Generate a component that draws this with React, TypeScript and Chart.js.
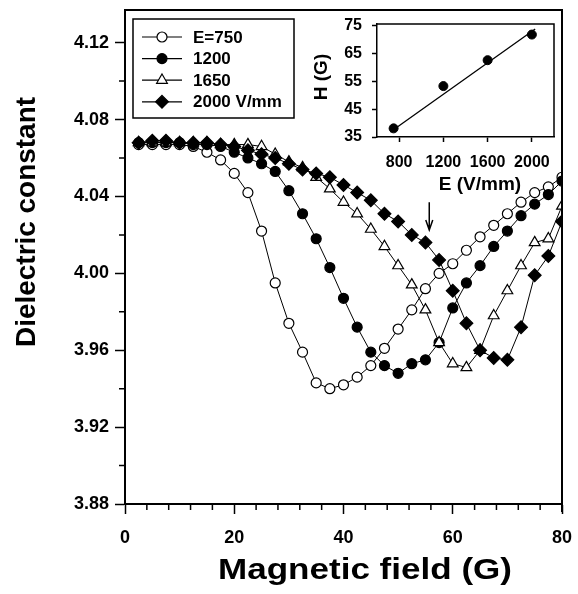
import React, { useEffect, useRef } from 'react';
import { Chart, registerables } from 'chart.js';
Chart.register(...registerables);

const FONT = '"Liberation Sans", Arial, Helvetica, sans-serif';

// Magnetic field (G) sampling grid
const fieldG = [2.5, 5, 7.5, 10, 12.5, 15, 17.5, 20, 22.5, 25, 27.5, 30, 32.5, 35, 37.5, 40,
  42.5, 45, 47.5, 50, 52.5, 55, 57.5, 60, 62.5, 65, 67.5, 70, 72.5, 75, 77.5, 80];

const e750 = [4.067, 4.067, 4.067, 4.067, 4.066, 4.063, 4.059, 4.052, 4.042, 4.022,
  3.995, 3.974, 3.959, 3.943, 3.940, 3.942, 3.946, 3.952, 3.961, 3.971,
  3.981, 3.992, 4.000, 4.005, 4.012, 4.019, 4.025, 4.031, 4.037, 4.042,
  4.045, 4.050];
const e1200 = [4.068, 4.068, 4.068, 4.068, 4.067, 4.067, 4.066, 4.063, 4.060, 4.057,
  4.053, 4.043, 4.031, 4.018, 4.003, 3.987, 3.972, 3.959, 3.952, 3.948,
  3.953, 3.955, 3.964, 3.982, 3.995, 4.004, 4.014, 4.022, 4.030, 4.036,
  4.041, 4.048];
const e1650 = [4.068, 4.068, 4.068, 4.068, 4.068, 4.068, 4.067, 4.067, 4.067, 4.066,
  4.062, 4.058, 4.055, 4.050, 4.044, 4.037, 4.031, 4.023, 4.014, 4.004,
  3.994, 3.981, 3.964, 3.953, 3.951, 3.960, 3.978, 3.991, 4.004, 4.016,
  4.018, 4.035];
const e2000 = [4.068, 4.069, 4.069, 4.068, 4.068, 4.068, 4.067, 4.066, 4.064, 4.062,
  4.060, 4.057, 4.054, 4.052, 4.050, 4.046, 4.042, 4.038, 4.031, 4.027,
  4.020, 4.016, 4.007, 3.991, 3.974, 3.960, 3.956, 3.955, 3.972, 3.999,
  4.009, 4.027];

const seriesLabels = ['E=750', '1200', '1650', '2000 V/mm'];
const xTicks = [0, 20, 40, 60, 80];
const xMinorTicks = [4, 8, 12, 16, 24, 28, 32, 36, 44, 48, 52, 56, 64, 68, 72, 76];
const yTicks = [3.88, 3.92, 3.96, 4.00, 4.04, 4.08, 4.12];
const yMinorTicks = [3.90, 3.94, 3.98, 4.02, 4.06, 4.10];

// arrow marker (field, [from, to] dielectric constant)
const arrowField = 55.7;
const arrowRange = [4.037, 4.0225];

// inset: H vs E
const insetE = [750, 1200, 1600, 2000];
const insetH = [38.1, 53.3, 62.6, 71.8];
const fitE = [720, 2030];
const fitH = [36.8, 73.8];
const insetXTicks = [800, 1200, 1600, 2000];
const insetYTicks = [35, 45, 55, 65, 75];

type Style = { shape: string; fill: string; r: number };
const styles: Style[] = [
  { shape: 'circle', fill: '#fff', r: 5 },
  { shape: 'circle', fill: '#000', r: 5 },
  { shape: 'triangle', fill: '#fff', r: 6.2 },
  { shape: 'rectRot', fill: '#000', r: 6.4 },
];

function drawMarker(ctx: CanvasRenderingContext2D, s: Style, x: number, y: number) {
  ctx.beginPath();
  const r = s.r;
  if (s.shape === 'circle') {
    ctx.arc(x, y, r, 0, Math.PI * 2);
  } else if (s.shape === 'triangle') {
    for (let k = 0; k < 3; k++) {
      const a = k * (2 * Math.PI / 3);
      const px = x + Math.sin(a) * r, py = y - Math.cos(a) * r;
      if (k === 0) ctx.moveTo(px, py); else ctx.lineTo(px, py);
    }
    ctx.closePath();
  } else {
    ctx.moveTo(x, y - r); ctx.lineTo(x + r, y); ctx.lineTo(x, y + r); ctx.lineTo(x - r, y);
    ctx.closePath();
  }
  ctx.fillStyle = s.fill; ctx.fill();
  ctx.lineWidth = 1.2; ctx.strokeStyle = '#000'; ctx.stroke();
}

function drawText(ctx: CanvasRenderingContext2D, text: string, x: number, y: number, font: string,
  rotate: boolean, targetW?: number) {
  ctx.save();
  ctx.font = font;
  ctx.fillStyle = '#000';
  const w = ctx.measureText(text).width;
  const sx = targetW ? targetW / w : 1;
  ctx.translate(x, y);
  if (rotate) ctx.rotate(-Math.PI / 2);
  ctx.scale(sx, 1);
  ctx.textAlign = 'center';
  ctx.textBaseline = 'alphabetic';
  ctx.fillText(text, 0, 0);
  ctx.restore();
}

const zeroPad = (s: any) => { s.paddingTop = 0; s.paddingBottom = 0; s.paddingLeft = 0; s.paddingRight = 0; };

const mainDecor = {
  id: 'mainDecor',
  afterDraw(chart: any) {
    const { ctx, chartArea: a, scales } = chart;
    const xs = scales.x, ys = scales.y;
    ctx.save();
    ctx.strokeStyle = '#000';
    // frame top/right
    ctx.lineWidth = 2;
    ctx.beginPath();
    ctx.moveTo(a.left, a.top); ctx.lineTo(a.right, a.top); ctx.lineTo(a.right, a.bottom + 8);
    ctx.stroke();
    // minor ticks
    ctx.lineWidth = 1.5;
    ctx.beginPath();
    xMinorTicks.forEach(v => {
      const px = xs.getPixelForValue(v);
      ctx.moveTo(px, a.bottom); ctx.lineTo(px, a.bottom + 6);
    });
    yMinorTicks.forEach(v => {
      const py = ys.getPixelForValue(v);
      ctx.moveTo(a.left, py); ctx.lineTo(a.left - 6, py);
    });
    ctx.stroke();
    // arrow
    const ax = xs.getPixelForValue(arrowField);
    const ay1 = ys.getPixelForValue(arrowRange[0]);
    const ay2 = ys.getPixelForValue(arrowRange[1]);
    ctx.lineWidth = 1.5;
    ctx.beginPath();
    ctx.moveTo(ax, ay1); ctx.lineTo(ax, ay2);
    ctx.moveTo(ax - 3.5, ay2 - 10); ctx.lineTo(ax, ay2); ctx.lineTo(ax + 3.5, ay2 - 10);
    ctx.stroke();
    // legend
    const lx = a.left + 8, ly = a.top + 9;
    ctx.lineWidth = 1.5;
    ctx.strokeRect(lx, ly, 161, 99);
    seriesLabels.forEach((lab, i) => {
      const yy = ly + 18 + i * 21.6;
      ctx.lineWidth = 1.2;
      ctx.beginPath();
      ctx.moveTo(lx + 9, yy); ctx.lineTo(lx + 49, yy);
      ctx.stroke();
      drawMarker(ctx, styles[i], lx + 29, yy);
      ctx.fillStyle = '#000';
      ctx.font = 'bold 17px ' + FONT;
      ctx.textAlign = 'left';
      ctx.textBaseline = 'middle';
      ctx.fillText(lab, lx + 60, yy + 1);
    });
    // axis titles
    drawText(ctx, 'Dielectric constant', 35, 222, 'bold 28px ' + FONT, true, 250);
    drawText(ctx, 'Magnetic field (G)', 365, 579, 'bold 30px ' + FONT, false, 294);
    ctx.restore();
  },
};

const insetDecor = {
  id: 'insetDecor',
  afterDraw(chart: any) {
    const { ctx, chartArea: a } = chart;
    ctx.save();
    ctx.strokeStyle = '#000';
    ctx.lineWidth = 1.5;
    ctx.beginPath();
    ctx.moveTo(a.left, a.top); ctx.lineTo(a.right, a.top); ctx.lineTo(a.right, a.bottom);
    ctx.stroke();
    drawText(ctx, 'H (G)', 27, 77, 'bold 19px ' + FONT, true);
    drawText(ctx, 'E (V/mm)', 180, 190, 'bold 19px ' + FONT, false);
    ctx.restore();
  },
};

export default function App() {
  const mainRef = useRef<HTMLCanvasElement>(null);
  const insetRef = useRef<HTMLCanvasElement>(null);

  useEffect(() => {
    const series = [e750, e1200, e1650, e2000];
    const tickFont = { family: FONT, size: 18, weight: 'bold' as const };
    const main = new Chart(mainRef.current as HTMLCanvasElement, {
      type: 'scatter',
      data: {
        datasets: series.map((vals, i) => ({
          label: seriesLabels[i],
          data: fieldG.map((x, k) => ({ x, y: vals[k] })),
          showLine: true,
          borderColor: '#000',
          borderWidth: 1,
          pointStyle: styles[i].shape as any,
          pointRadius: styles[i].r,
          pointBackgroundColor: styles[i].fill,
          pointBorderColor: '#000',
          pointBorderWidth: 1.2,
          order: 3 - i,
        })),
      },
      options: {
        animation: false,
        responsive: false,
        maintainAspectRatio: false,
        layout: { padding: { left: 0, right: 16, top: 10, bottom: 0 } },
        plugins: { legend: { display: false }, tooltip: { enabled: false } },
        scales: {
          x: {
            type: 'linear', min: 0, max: 80,
            afterBuildTicks: (s: any) => { s.ticks = xTicks.map(v => ({ value: v })); },
            afterFit: (s: any) => { s.height = 90; zeroPad(s); },
            grid: { drawOnChartArea: false, drawTicks: true, tickLength: 10, tickWidth: 1.5, tickColor: '#000' },
            border: { display: true, color: '#000', width: 2 },
            ticks: { color: '#000', font: tickFont, padding: 13, maxRotation: 0, callback: (v: any) => String(v) },
          },
          y: {
            type: 'linear', min: 3.88, max: 4.137,
            afterBuildTicks: (s: any) => { s.ticks = yTicks.map(v => ({ value: v })); },
            afterFit: (s: any) => { s.width = 125; zeroPad(s); },
            grid: { drawOnChartArea: false, drawTicks: true, tickLength: 10, tickWidth: 1.5, tickColor: '#000' },
            border: { display: true, color: '#000', width: 2 },
            ticks: { color: '#000', font: tickFont, padding: 6, callback: (v: any) => Number(v).toFixed(2) },
          },
        },
      },
      plugins: [mainDecor],
    });

    const insetFont = { family: FONT, size: 16, weight: 'bold' as const };
    const inset = new Chart(insetRef.current as HTMLCanvasElement, {
      type: 'scatter',
      data: {
        datasets: [
          {
            data: insetE.map((e, i) => ({ x: e, y: insetH[i] })),
            showLine: false,
            pointRadius: 4.5,
            pointBackgroundColor: '#000',
            pointBorderColor: '#000',
          },
          {
            data: fitE.map((e, i) => ({ x: e, y: fitH[i] })),
            showLine: true,
            pointRadius: 0,
            borderColor: '#000',
            borderWidth: 1.3,
          },
        ],
      },
      options: {
        animation: false,
        responsive: false,
        maintainAspectRatio: false,
        layout: { padding: { left: 0, right: 16, top: 24, bottom: 0 } },
        plugins: { legend: { display: false }, tooltip: { enabled: false } },
        scales: {
          x: {
            type: 'linear', min: 600, max: 2200,
            afterBuildTicks: (s: any) => { s.ticks = insetXTicks.map(v => ({ value: v })); },
            afterFit: (s: any) => { s.height = 63; zeroPad(s); },
            grid: { drawOnChartArea: false, drawTicks: true, tickLength: 5, tickWidth: 1.5, tickColor: '#000' },
            border: { display: true, color: '#000', width: 1.5 },
            ticks: { color: '#000', font: insetFont, padding: 11, maxRotation: 0, callback: (v: any) => String(v) },
          },
          y: {
            type: 'linear', min: 35, max: 75.6,
            afterBuildTicks: (s: any) => { s.ticks = insetYTicks.map(v => ({ value: v })); },
            afterFit: (s: any) => { s.width = 77; zeroPad(s); },
            grid: { drawOnChartArea: false, drawTicks: true, tickLength: 5, tickWidth: 1.5, tickColor: '#000' },
            border: { display: true, color: '#000', width: 1.5 },
            ticks: { color: '#000', font: insetFont, padding: 10, callback: (v: any) => String(v) },
          },
        },
      },
      plugins: [insetDecor],
    });

    return () => { main.destroy(); inset.destroy(); };
  }, []);

  return (
    <div style={{ position: 'fixed', left: 0, top: 0, width: 578, height: 594, background: '#fff' }}>
      <canvas ref={mainRef} width={578} height={594}
        style={{ position: 'absolute', left: 0, top: 0, width: 578, height: 594 }} />
      <canvas ref={insetRef} width={270} height={200}
        style={{ position: 'absolute', left: 300, top: 0, width: 270, height: 200 }} />
    </div>
  );
}
